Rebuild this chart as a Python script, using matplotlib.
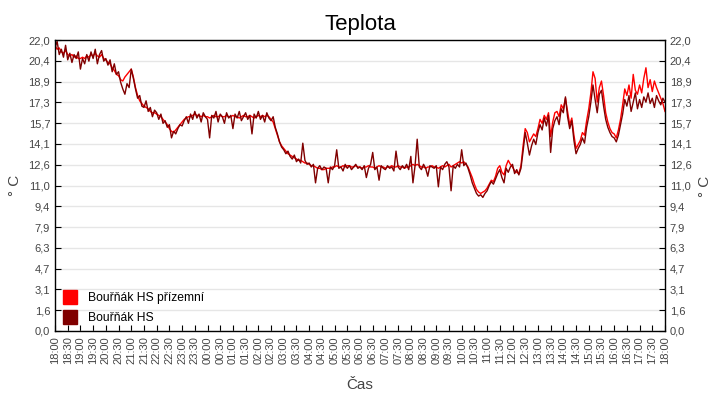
import datetime as dt
import numpy as np
import matplotlib
matplotlib.use("Agg")
import matplotlib.pyplot as plt
import matplotlib.dates as mdates
from matplotlib.ticker import FuncFormatter
from matplotlib.lines import Line2D

plt.rcParams['font.family'] = ['Liberation Sans', 'DejaVu Sans']

# readings every 5 minutes, 18:00 -> 18:00 next day (one row = one hour)
start = dt.datetime(2023, 5, 1, 18, 0)

prizemni = [
    21.6, 21.3, 21.4, 21.1, 21.0, 21.2, 20.9, 20.8, 20.9, 20.7, 20.8, 20.6,
    20.6, 20.7, 20.6, 20.8, 20.7, 20.9, 20.8, 21.0, 20.8, 20.7, 20.9, 20.6,
    20.5, 20.3, 20.2, 19.9, 19.7, 19.4, 19.3, 19.0, 18.9, 19.2, 19.4, 19.6,
    19.8, 19.2, 18.4, 17.8, 17.4, 17.2, 17.0, 16.9, 16.8, 16.6, 16.5, 16.5,
    16.4, 16.3, 16.2, 16.0, 15.8, 15.6, 15.3, 15.1, 15.0, 15.2, 15.4, 15.6,
    15.8, 16.0, 16.1, 16.2, 16.2, 16.3, 16.4, 16.3, 16.3, 16.2, 16.3, 16.2,
    16.2, 16.1, 16.2, 16.3, 16.2, 16.2, 16.3, 16.2, 16.2, 16.3, 16.2, 16.2,
    16.3, 16.2, 16.2, 16.1, 16.2, 16.3, 16.2, 16.2, 16.3, 16.2, 16.1, 16.2,
    16.3, 16.2, 16.3, 16.2, 16.3, 16.2, 16.0, 15.8, 15.3, 14.8, 14.3, 14.0,
    13.8, 13.6, 13.4, 13.3, 13.2, 13.1, 13.0, 12.9, 12.9, 12.8, 12.7, 12.7,
    12.6, 12.5, 12.5, 12.4, 12.3, 12.3, 12.2, 12.2, 12.3, 12.3, 12.3, 12.4,
    12.4, 12.5, 12.4, 12.4, 12.5, 12.4, 12.5, 12.5, 12.4, 12.4, 12.5, 12.4,
    12.4, 12.3, 12.4, 12.4, 12.5, 12.4, 12.4, 12.3, 12.4, 12.5, 12.4, 12.4,
    12.3, 12.4, 12.4, 12.5, 12.4, 12.4, 12.5, 12.4, 12.4, 12.3, 12.4, 12.4,
    12.5, 12.6, 12.5, 12.6, 12.5, 12.4, 12.4, 12.3, 12.4, 12.4, 12.5, 12.4,
    12.4, 12.3, 12.4, 12.5, 12.4, 12.5, 12.6, 12.4, 12.5, 12.6, 12.7, 12.8,
    12.7, 12.8, 12.6, 12.4, 12.0, 11.6, 11.1, 10.7, 10.5, 10.4, 10.5, 10.6,
    10.8, 11.1, 11.4, 11.3, 11.7, 12.3, 12.5, 12.0, 11.8, 12.5, 12.9, 12.6,
    12.4, 12.1, 12.0, 11.9, 12.5, 14.0, 15.3, 15.0, 14.3, 14.6, 14.9, 14.7,
    15.3, 16.0, 15.7, 16.3, 16.0, 16.5, 14.7, 15.8, 16.5, 16.6, 16.2, 17.1,
    16.8, 17.6, 16.6, 15.6, 16.1, 14.8, 13.8, 14.1, 14.4, 15.0, 14.8, 15.9,
    16.8, 18.0, 19.6, 19.1, 17.3, 18.4, 18.9, 17.8, 16.5, 15.8, 15.3, 15.0,
    14.9, 14.6, 15.2, 16.0, 17.1, 18.3, 17.8, 18.6, 17.6, 19.4, 18.2, 17.9,
    18.6, 18.0, 19.1, 19.9, 18.4, 19.0, 18.1, 18.9, 18.4, 18.0, 17.6, 17.2,
    16.6,
]

hs = [
    21.4, 21.9, 20.9, 21.3, 20.7, 21.6, 20.5, 21.0, 20.3, 20.9, 20.6, 21.1,
    19.8, 20.6, 20.2, 20.9, 20.4, 21.1, 20.6, 21.3, 20.2, 20.9, 21.2, 20.4,
    20.6, 20.1, 20.5, 19.6, 20.2, 19.4, 19.6, 18.8, 18.3, 17.9, 18.7, 18.4,
    19.8, 19.1, 18.3, 17.6, 17.8, 17.0, 16.9, 17.4, 16.6, 16.9, 16.2, 16.7,
    16.5, 16.0, 16.4, 15.7, 15.9, 15.4, 15.6, 14.6, 15.1, 14.9, 15.3, 15.6,
    15.5, 15.9, 16.2, 15.7, 16.4, 16.0, 16.6, 16.1, 16.4, 15.8, 16.5, 16.2,
    16.0, 14.6, 16.3, 16.1, 16.6, 15.8, 16.4, 16.2, 15.7, 16.5, 16.1, 16.3,
    15.3, 16.4, 16.1, 16.6, 15.9, 16.2, 16.5, 16.0, 16.3, 14.9, 16.4, 16.1,
    16.6, 16.0, 16.3, 15.8, 16.5, 16.1, 15.9, 16.2, 15.4, 14.9, 14.3, 13.9,
    13.7, 13.4, 13.6, 13.2, 13.0, 13.3, 12.8, 13.0, 12.7, 14.2, 12.9, 12.6,
    12.7, 12.4, 12.6, 11.2, 12.3, 12.5, 12.2, 12.4, 12.3, 11.2, 12.4, 12.2,
    12.5, 13.7, 12.3, 12.4, 12.1, 12.6, 12.3, 12.5, 12.2, 12.4, 12.6, 12.3,
    12.4, 12.2, 12.5, 11.6, 12.3, 12.6, 13.5, 12.2, 12.4, 11.4, 12.5, 12.3,
    12.2, 12.5, 12.3, 12.4, 12.1, 13.6, 12.4, 12.2, 12.5, 12.3, 12.6, 12.2,
    13.2, 11.2, 12.5, 14.5, 12.4, 12.2, 12.6, 12.3, 11.7, 12.5, 12.4, 12.3,
    12.5, 10.9, 12.4, 12.2, 12.6, 12.8, 12.4, 10.6, 12.5, 12.3, 12.6, 12.4,
    13.7, 12.5, 12.7, 12.3, 11.8, 11.2, 10.8, 10.4, 10.2, 10.3, 10.1, 10.4,
    10.6, 11.0, 11.3, 11.1, 11.5, 11.9, 12.2, 11.6, 11.2, 12.3, 12.0, 12.4,
    12.6, 11.9, 12.2, 11.8, 12.3, 13.6, 15.0, 14.2, 13.3, 14.0, 14.5, 14.1,
    15.0, 15.6, 15.2, 16.1, 15.5, 16.3, 13.5, 15.3, 15.9, 16.2, 15.6, 16.8,
    16.5, 17.7, 16.2, 15.3, 15.9, 14.4, 13.4, 13.8, 14.1, 14.6, 14.2, 15.4,
    16.2, 17.3, 18.6, 17.5, 16.5, 17.9, 18.2, 17.0, 16.0, 15.4, 15.0, 14.7,
    14.6, 14.3, 14.8, 15.6, 16.4, 17.5, 17.0, 17.8, 16.6, 17.3, 18.0, 16.8,
    17.5, 16.9, 17.7, 17.3, 18.0, 17.2, 17.6, 16.9, 17.8, 17.4, 17.1, 17.6,
    17.3,
]

times = [start + dt.timedelta(minutes=5 * i) for i in range(len(prizemni))]

red = '#ff0000'
dark = '#800000'
grey = '#444444'

fig = plt.figure(figsize=(7.2, 4.0), dpi=100)
ax = fig.add_axes([55 / 720, 1 - 331 / 400, 610 / 720, 291 / 400])

ax.plot(times, prizemni, color=red, lw=1.0)
ax.plot(times, hs, color=dark, lw=1.0)

ax.set_xlim(times[0], times[-1])
ax.set_ylim(0, 22)

yt = np.linspace(0, 22, 15)
fmt = FuncFormatter(lambda v, p: f"{v:.1f}".replace('.', ','))
ax.set_yticks(yt)
ax.yaxis.set_major_formatter(fmt)
ax.grid(axis='y', color='#e6e6e6', lw=1)
ax.set_axisbelow(True)

ax.xaxis.set_major_locator(mdates.MinuteLocator(byminute=[0, 30]))
ax.xaxis.set_major_formatter(mdates.DateFormatter('%H:%M'))
ax.tick_params(axis='x', direction='in', length=4, labelrotation=90,
               labelsize=8, labelcolor=grey, pad=4)
ax.tick_params(axis='y', direction='in', length=4, labelsize=8,
               labelcolor=grey, left=True, right=True, labelright=True)

for s in ax.spines.values():
    s.set_color('black')
    s.set_linewidth(1)

ax.set_title('Teplota', fontsize=16, pad=7)
ax.set_xlabel('Čas', fontsize=11, color=grey, labelpad=10)
ax.set_ylabel('° C', fontsize=11, color=grey)
ax.yaxis.set_label_coords(-33 / 610, 0.5)
fig.text(705 / 720, 1 - 186 / 400, '° C', rotation=90, fontsize=11,
         color=grey, ha='center', va='center')

handles = [Line2D([], [], ls='', marker='s', ms=10.5, color=red),
           Line2D([], [], ls='', marker='s', ms=10.5, color=dark)]
ax.legend(handles, ['Bouřňák HS přízemní', 'Bouřňák HS'], loc='lower left',
          frameon=False, fontsize=8.7, handletextpad=0.8, labelspacing=0.6,
          borderaxespad=0.3, handlelength=1.3, borderpad=0.3)

fig.savefig('out.png', dpi=100)
